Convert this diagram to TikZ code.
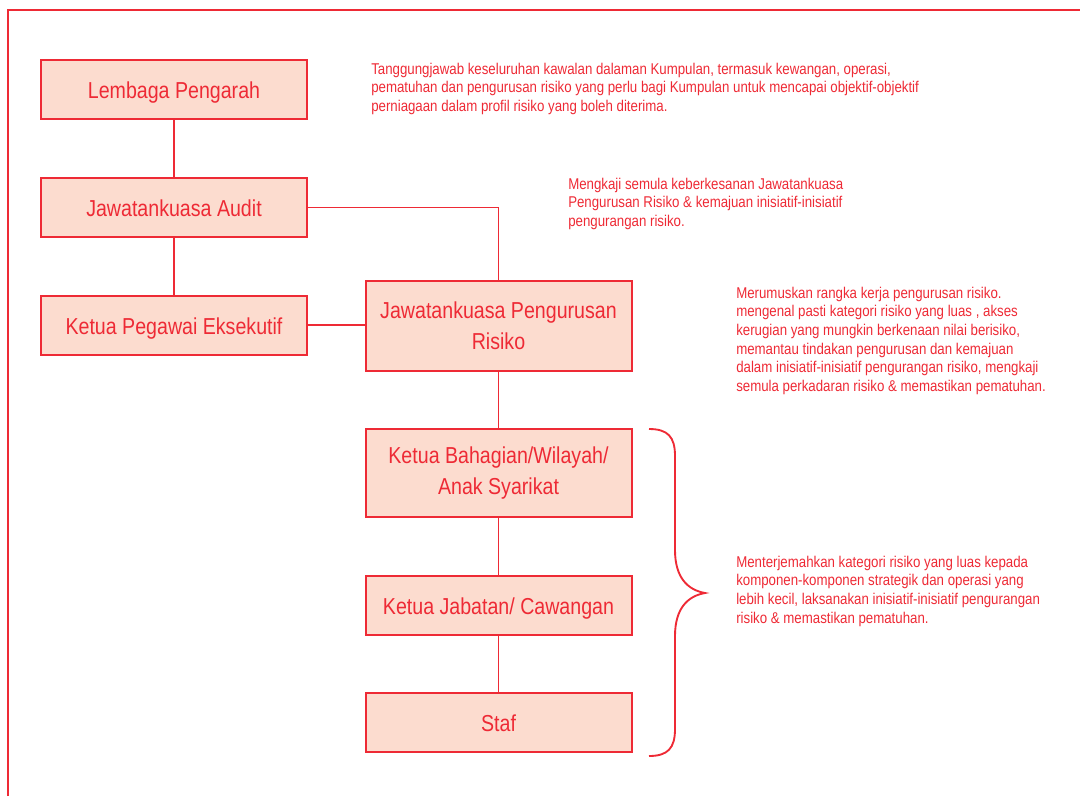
\documentclass[tikz,border=0pt]{standalone}
\usepackage{fontspec}
\setmainfont[FakeStretch=0.85]{Liberation Sans}
\usepackage{xcolor}
\definecolor{riskred}{HTML}{EE2A35}
\definecolor{riskfill}{HTML}{FCDCCF}

\begin{document}
\begin{tikzpicture}[x=0.75pt, y=-0.75pt,
        unit/.style={draw=riskred, line width=1.5pt, fill=riskfill, text=riskred,
            inner sep=0pt, minimum width=199.5pt, minimum height=44.25pt,
            align=center, font=\fontsize{17.3}{23}\selectfont},
        single/.style={text height=15pt, text depth=1.5pt},
        note/.style={anchor=north west, inner sep=0pt, align=left, text=riskred,
            font=\fontsize{11.7}{14}\selectfont},
        link/.style={draw=riskred, line width=1.4pt}]
        \useasboundingbox (0,0) rectangle (1080,796);
        \draw [riskred, line width=1.5pt] (8,796) -- (8,9.5) -- (1080,9.5);

        % left column
        \node[unit, single] (lp) at (174,89.5) {Lembaga Pengarah};
        \node[unit, single] (ja) at (174,207.5) {Jawatankuasa Audit};
        \node[unit, single] (kpe) at (174,325) {Ketua Pegawai Eksekutif};

        % right column
        \node[unit, minimum height=67.5pt] (jpr) at (498.5,326) {Jawatankuasa Pengurusan\\Risiko};
        \node[unit, minimum height=66pt] (kbw) at (498.5,473) {Ketua Bahagian/Wilayah/\\Anak Syarikat};
        \node[unit, single] (kjc) at (498.5,605.5) {Ketua Jabatan/ Cawangan};
        \node[unit, single] (staf) at (498.5,722.5) {Staf};

        \draw [link] (lp) -- (ja);
        \draw [link] (ja) -- (kpe);
        \draw [link] (ja.east) -| (jpr.north);
        \draw [link] (kpe.east) -- (kpe.east -| jpr.west);
        \draw [link] (jpr) -- (kbw);
        \draw [link] (kbw) -- (kjc);
        \draw [link] (kjc) -- (staf);

        % brace
        \coordinate (bt) at (649,429);
        \coordinate (tip) at (705,593);
        \coordinate (bb) at (649,756);
        \draw [link] (bt) .. controls (668,429) and (675,437) .. (675,456)
            -- (675,550) .. controls (675,578) and (688,590) .. (tip)
            .. controls (688,596) and (675,608) .. (675,636)
            -- (675,729) .. controls (675,748) and (668,756) .. (bb);

        % notes
        \node[note] (n1) at (371,62.5) {Tanggungjawab keseluruhan kawalan dalaman Kumpulan, termasuk kewangan, operasi,\\pematuhan dan pengurusan risiko yang perlu bagi Kumpulan untuk mencapai objektif-objektif\\perniagaan dalam profil risiko yang boleh diterima.};
        \node[note] (n2) at (568,177.5) {Mengkaji semula keberkesanan Jawatankuasa\\Pengurusan Risiko \& kemajuan inisiatif-inisiatif\\pengurangan risiko.};
        \node[note] (n3) at (736,286.5) {Merumuskan rangka kerja pengurusan risiko.\\mengenal pasti kategori risiko yang luas , akses\\kerugian yang mungkin berkenaan nilai berisiko,\\memantau tindakan pengurusan dan kemajuan\\dalam inisiatif-inisiatif pengurangan risiko, mengkaji\\semula perkadaran risiko \& memastikan pematuhan.};
        \node[note] (n4) at (736,555.5) {Menterjemahkan kategori risiko yang luas kepada\\komponen-komponen strategik dan operasi yang\\lebih kecil, laksanakan inisiatif-inisiatif pengurangan\\risiko \& memastikan pematuhan.};
\end{tikzpicture}
\end{document}
